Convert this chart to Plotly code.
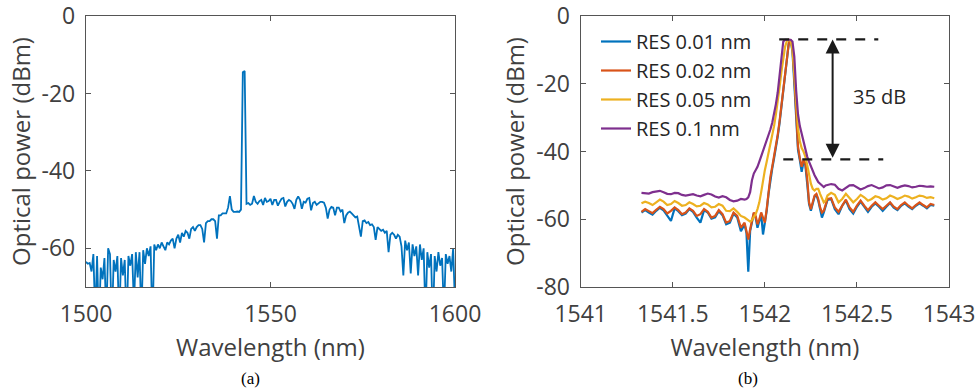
import numpy as np
import plotly.graph_objects as go

# ---------------- Panel (a): broadband spectrum, 0.5 nm sampling ----------------
WL_A_START, WL_A_STOP, WL_A_STEP = 1500.0, 1600.0, 0.5
POWER_A = [
    -63.5, -64.0, -63.8, -66.0, -61.5, -78.0, -62.0, -80.0, -65.0, -68.0,   # 1500
    -62.5, -78.0, -60.0, -61.5, -80.0, -63.0, -66.0, -62.0, -79.0, -62.5,   # 1505
    -67.0, -63.0, -80.0, -62.0, -64.5, -61.5, -75.0, -61.0, -67.5, -61.0,   # 1510
    -78.0, -60.5, -64.0, -60.0, -62.0, -59.5, -80.0, -59.0, -60.5, -59.0,   # 1515
    -60.0, -58.5, -59.5, -60.5, -58.5, -59.0, -58.0, -57.5, -60.0, -57.5,   # 1520
    -56.5, -58.5, -56.0, -57.0, -55.5, -56.0, -57.5, -55.0, -54.5, -55.5,   # 1525
    -54.5, -54.0, -54.0, -55.0, -58.5, -53.5, -53.0, -53.0, -52.5, -52.5,   # 1530
    -53.0, -57.5, -51.5, -51.5, -51.0, -51.0, -51.0, -49.5, -46.5, -50.0,   # 1535
    -50.6, -50.6, -50.5, -50.6, -50.0, -14.5, -14.2, -48.5, -48.3, -48.8,   # 1540
    -48.5, -46.5, -48.0, -48.5, -47.8, -47.5, -48.8, -47.0, -48.0, -47.8,   # 1545
    -47.2, -48.8, -47.5, -47.5, -49.0, -48.0, -47.2, -47.0, -49.2, -48.0,   # 1550
    -47.5, -47.8, -48.5, -49.8, -47.5, -46.6, -47.5, -49.8, -48.0, -48.2,   # 1555
    -47.2, -47.0, -50.2, -48.3, -48.0, -48.8, -48.5, -48.0, -48.0, -48.2,   # 1560
    -49.5, -52.3, -50.0, -49.3, -49.5, -51.5, -49.5, -49.5, -50.5, -50.0,   # 1565
    -53.5, -51.5, -50.8, -50.5, -51.0, -51.5, -52.0, -51.8, -54.5, -57.0,   # 1570
    -53.0, -52.8, -53.5, -53.2, -54.0, -53.8, -54.5, -57.8, -54.5, -55.0,   # 1575
    -55.5, -55.2, -56.0, -55.5, -61.0, -56.5, -56.0, -56.5, -57.5, -56.5,   # 1580
    -57.0, -59.5, -67.0, -58.0, -60.5, -58.5, -66.5, -59.0, -62.0, -59.5,   # 1585
    -67.0, -59.0, -63.0, -60.0, -78.0, -61.0, -65.0, -61.5, -80.0, -62.0,   # 1590
    -66.0, -61.0, -64.5, -62.5, -77.0, -61.5, -64.0, -62.0, -66.0, -60.0,   # 1595
    -75.0,                                                                  # 1600
]
WL_A = np.round(np.arange(WL_A_START, WL_A_STOP + WL_A_STEP / 2, WL_A_STEP), 2)

# ---------------- Panel (b): zoom around the lasing line ----------------
WL_B = [
    1541.33, 1541.35, 1541.37, 1541.39, 1541.41, 1541.43, 1541.45, 1541.47, 1541.49, 1541.51,
    1541.53, 1541.55, 1541.57, 1541.59, 1541.61, 1541.63, 1541.65, 1541.67, 1541.69, 1541.71,
    1541.73, 1541.75, 1541.77, 1541.79, 1541.81, 1541.83, 1541.85, 1541.87, 1541.89,
    1541.90, 1541.91, 1541.92, 1541.93, 1541.94, 1541.95, 1541.96, 1541.97, 1541.98, 1541.99,
    1542.00, 1542.01, 1542.02, 1542.03, 1542.04, 1542.05, 1542.06, 1542.07, 1542.08, 1542.09,
    1542.10, 1542.11, 1542.12, 1542.13, 1542.14, 1542.15, 1542.16, 1542.17, 1542.18, 1542.19,
    1542.20, 1542.21, 1542.22, 1542.23, 1542.24, 1542.25, 1542.26, 1542.27, 1542.28, 1542.29,
    1542.30, 1542.31, 1542.32, 1542.33, 1542.34,
    1542.36, 1542.38, 1542.40, 1542.42, 1542.44, 1542.46, 1542.48, 1542.50, 1542.52, 1542.54,
    1542.56, 1542.58, 1542.60, 1542.62, 1542.64, 1542.66, 1542.68, 1542.70, 1542.72, 1542.74,
    1542.76, 1542.78, 1542.80, 1542.82, 1542.84, 1542.86, 1542.88, 1542.90, 1542.92,
]

RES_001 = [
    -58.0, -57.3, -58.0, -58.6, -57.5, -56.6, -57.4, -58.8, -60.5, -56.8,
    -57.6, -58.8, -58.3, -57.0, -57.8, -59.5, -61.0, -57.3, -58.0, -59.8,
    -59.4, -57.6, -58.8, -61.5, -61.0, -58.3, -59.5, -63.5, -61.5,
    -64.0, -75.5, -63.5, -61.0, -58.3, -59.5, -62.5, -60.5, -58.5, -64.5,
    -61.5, -57.5, -52.5, -48.0, -45.0, -42.0, -39.0, -35.5, -31.5, -27.0,
    -22.0, -17.0, -12.0, -8.0, -7.0, -10.5, -20.0, -31.5, -39.5, -42.5,
    -46.0, -43.0, -44.0, -49.5, -55.5, -57.5, -55.3, -53.3, -52.8, -54.5,
    -57.0, -59.5, -58.0, -55.8, -54.3,
    -54.0, -57.0, -58.5, -56.0, -54.5, -57.0, -58.3, -56.3, -54.8, -56.5,
    -57.8, -56.3, -55.3, -56.3, -57.5, -56.3, -55.2, -56.6, -57.3, -56.0,
    -55.3, -56.3, -57.0, -56.0, -55.3, -56.0, -56.8, -55.8, -56.0,
]
RES_002 = [
    -57.8, -57.0, -57.6, -58.2, -57.2, -56.3, -57.0, -58.3, -57.5, -56.5,
    -57.3, -58.5, -58.0, -56.8, -57.5, -59.0, -58.5, -57.0, -57.8, -59.5,
    -59.0, -57.3, -58.5, -61.0, -60.5, -58.0, -59.0, -62.5, -61.0,
    -63.5, -66.0, -63.0, -60.5, -58.0, -59.0, -61.5, -60.0, -58.0, -59.5,
    -61.0, -57.0, -52.0, -47.5, -44.5, -41.5, -38.5, -35.0, -31.0, -26.5,
    -21.5, -16.5, -11.5, -8.0, -7.0, -9.5, -18.0, -30.0, -38.5, -42.0,
    -44.5, -42.5, -43.5, -48.0, -55.0, -57.0, -55.0, -53.0, -52.5, -54.0,
    -56.5, -58.0, -57.5, -55.5, -54.0,
    -53.8, -56.5, -57.8, -55.8, -54.2, -56.5, -57.8, -56.0, -54.5, -56.0,
    -57.3, -56.0, -55.0, -56.0, -57.0, -56.0, -55.0, -56.3, -57.0, -55.8,
    -55.0, -56.0, -56.8, -55.8, -55.0, -55.8, -56.5, -55.5, -55.8,
]
RES_005 = [
    -55.3, -54.8, -55.2, -55.8, -55.0, -54.2, -54.8, -55.8, -55.5, -54.6,
    -55.2, -56.0, -55.8, -55.0, -55.5, -56.2, -56.0, -55.2, -55.6, -56.5,
    -56.3, -55.5, -56.0, -57.5, -57.6, -56.8, -57.8, -59.0, -59.5,
    -60.0, -60.5, -60.7, -60.2, -59.5, -58.5, -57.0, -55.0, -52.0, -48.5,
    -45.5, -43.0, -40.5, -38.0, -35.5, -32.5, -29.0, -25.5, -21.0, -16.5,
    -12.5, -9.0, -7.3, -7.0, -7.3, -10.0, -17.0, -26.0, -33.0, -37.0,
    -39.0, -40.0, -41.5, -44.0, -47.0, -49.5, -51.0, -51.5, -51.0, -51.0,
    -52.5, -54.0, -55.0, -54.5, -53.0,
    -52.2, -52.8, -55.0, -54.0, -52.5, -53.8, -55.0, -54.0, -52.8, -53.5,
    -54.5, -54.0, -53.2, -53.5, -54.2, -53.8, -53.0, -53.4, -54.0, -53.6,
    -53.0, -53.3, -53.9, -53.5, -53.0, -53.2, -53.7, -53.5, -53.8,
]
RES_01 = [
    -52.2, -52.3, -52.4, -52.0, -51.8, -51.6, -52.0, -52.5, -52.6, -52.2,
    -52.3, -52.8, -53.0, -52.7, -52.6, -53.0, -53.2, -52.8, -52.4, -52.7,
    -53.3, -53.6, -53.2, -53.5, -54.3, -54.7, -54.5, -54.0, -54.2,
    -54.0, -53.5, -52.0, -48.5, -46.5, -45.5, -44.5, -43.0, -41.5, -40.0,
    -38.5, -37.0, -35.5, -33.5, -31.5, -29.0, -26.0, -22.5, -17.0, -11.0,
    -7.5, -7.0, -7.0, -7.0, -7.0, -7.5, -12.0, -22.0, -29.0, -32.5,
    -35.0, -37.5, -40.0, -41.5, -43.0, -44.5, -46.0, -47.0, -48.0, -49.0,
    -49.5, -50.0, -50.5, -50.0, -49.8,
    -49.6, -49.8, -51.0, -51.5, -50.8, -50.0, -49.9, -50.6, -51.2, -50.8,
    -50.2, -49.9, -50.3, -50.9, -50.6, -50.0, -49.9, -50.4, -50.7, -50.3,
    -50.0, -50.2, -50.6, -50.4, -50.1, -50.2, -50.4, -50.3, -50.4,
]
SERIES_B = [
    ("RES 0.01 nm", RES_001, "#0072BD"),
    ("RES 0.02 nm", RES_002, "#D95319"),
    ("RES 0.05 nm", RES_005, "#EDB120"),
    ("RES 0.1 nm", RES_01, "#7E2F8E"),
]

# extinction annotation (data units of panel b)
PEAK_LEVEL = -6.9
FLOOR_LEVEL = -42.3
PEAK_LINE_X = (1542.078, 1542.616)
FLOOR_LINE_X = (1542.10, 1542.643)
ARROW_X = 1542.368
DELTA_LABEL = "35 dB"
DELTA_LABEL_POS = (1542.62, -23.8)

# ticks
XT_A = [1500, 1550, 1600]
YT_A = [0, -20, -40, -60]
XT_B = [1541, 1541.5, 1542, 1542.5, 1543]
YT_B = [0, -20, -40, -60, -80]

TICK_FONT = dict(family="Open Sans", size=23, color="#404040")
TITLE_FONT = dict(family="Open Sans", size=24, color="#404040")
AX_COLOR = "#555555"

fig = go.Figure()
fig.add_trace(go.Scatter(x=WL_A, y=POWER_A, mode="lines",
                         line=dict(color="#0072BD", width=1.8),
                         showlegend=False, xaxis="x", yaxis="y"))
for i, (name, vals, col) in enumerate(SERIES_B):
    fig.add_trace(go.Scatter(x=WL_B, y=vals, mode="lines", name=name,
                             line=dict(color=col, width=2.2),
                             legendgroup=f"g{i}",
                             xaxis="x2", yaxis="y2"))

def axis_common():
    return dict(showline=True, linecolor=AX_COLOR, linewidth=1.3, mirror="ticks",
                ticks="inside", ticklen=5, tickcolor=AX_COLOR, tickwidth=1.2,
                showgrid=False, zeroline=False, tickfont=TICK_FONT,
                title_font=TITLE_FONT, automargin=False, ticklabeloverflow="allow")

ydom = [101 / 388, 372 / 388]
fig.update_layout(
    width=976, height=388,
    margin=dict(l=0, r=0, t=0, b=0, autoexpand=False),
    paper_bgcolor="white", plot_bgcolor="white",
    xaxis=dict(domain=[86 / 976, 455 / 976], range=[1500, 1600],
               tickvals=XT_A, ticktext=[str(v) for v in XT_A],
               title_text="Wavelength (nm)", title_standoff=11,
               ticklabelstandoff=6, anchor="y", **axis_common()),
    yaxis=dict(domain=ydom, range=[-70, 0.02],
               tickvals=YT_A, ticktext=[str(v) for v in YT_A],
               title_text="Optical power (dBm)", title_standoff=4,
               ticklabelstandoff=5, anchor="x", **axis_common()),
    xaxis2=dict(domain=[580.7 / 976, 949 / 976], range=[1541, 1543],
                tickvals=XT_B, ticktext=[f"{v:g}" for v in XT_B],
                title_text="Wavelength (nm)", title_standoff=11,
                ticklabelstandoff=6, anchor="y2", **axis_common()),
    yaxis2=dict(domain=ydom, range=[-80, 0.02],
                tickvals=YT_B, ticktext=[str(v) for v in YT_B],
                title_text="Optical power (dBm)", title_standoff=4,
                ticklabelstandoff=5, anchor="x2", **axis_common()),
    legend=dict(x=596 / 976, y=1 - 22 / 388, xanchor="left", yanchor="top",
                bgcolor="rgba(0,0,0,0)", borderwidth=0,
                font=dict(family="Open Sans", size=20, color="#262626"),
                tracegroupgap=0, itemwidth=30),
    showlegend=True,
)

# dashed reference lines
for (x0, x1), lvl in ((PEAK_LINE_X, PEAK_LEVEL), (FLOOR_LINE_X, FLOOR_LEVEL)):
    fig.add_shape(type="line", xref="x2", yref="y2", x0=x0, x1=x1, y0=lvl, y1=lvl,
                  line=dict(color="#1a1a1a", width=2.2, dash="10px,9px"))

# double-headed arrow
fig.add_annotation(x=ARROW_X, y=PEAK_LEVEL, ax=ARROW_X, ay=FLOOR_LEVEL,
                   xref="x2", yref="y2", axref="x2", ayref="y2", text="",
                   showarrow=True, arrowhead=2, startarrowhead=2,
                   arrowside="end+start", arrowwidth=2, arrowsize=1.4,
                   startarrowsize=1.4, arrowcolor="#1a1a1a", standoff=0, startstandoff=0)
fig.add_annotation(x=DELTA_LABEL_POS[0], y=DELTA_LABEL_POS[1], xref="x2", yref="y2",
                   text=DELTA_LABEL, showarrow=False,
                   font=dict(family="Open Sans", size=20, color="#262626"))

# captions
for label, xc in (("(a)", 250.7), ("(b)", 748.3)):
    fig.add_annotation(x=xc / 976, y=1 - 378 / 388, xref="paper", yref="paper",
                       xanchor="center", yanchor="middle",
                       text=label, showarrow=False,
                       font=dict(family="Liberation Serif", size=17, color="#000000"))

fig.write_html("out.html", config={"displayModeBar": False},
               post_script="document.body.style.margin='0';document.body.style.overflow='hidden';")
